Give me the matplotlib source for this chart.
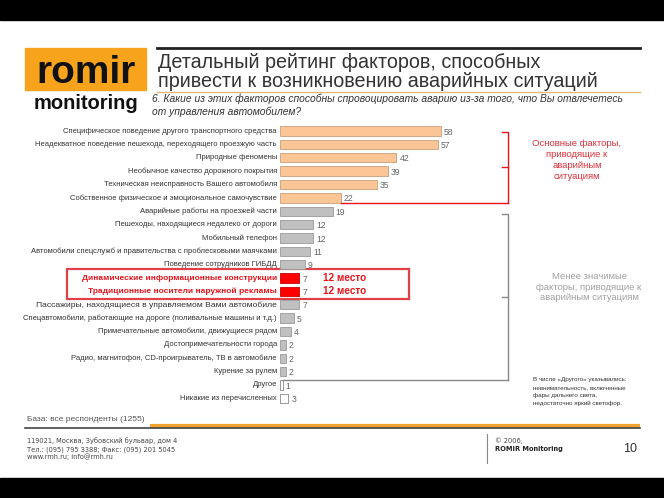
import matplotlib.pyplot as plt
import matplotlib.patches as patches

plt.rcParams['font.family'] = ['Liberation Sans', 'DejaVu Sans']

categories = [
    'Специфическое поведение другого транспортного средства',
    'Неадекватное поведение пешехода, переходящего проезжую часть',
    'Природные феномены',
    'Необычное качество дорожного покрытия',
    'Техническая неисправность Вашего автомобиля',
    'Собственное физическое и эмоциональное самочувствие',
    'Аварийные работы на проезжей части',
    'Пешеходы, находящиеся недалеко от дороги',
    'Мобильный телефон',
    'Автомобили спецслужб и правительства с проблесковыми маячками',
    'Поведение сотрудников ГИБДД',
    'Динамические информационные конструкции',
    'Традиционные носители наружной рекламы',
    'Пассажиры, находящиеся в управляемом Вами автомобиле',
    'Спецавтомобили, работающие на дороге (поливальные машины и т.д.)',
    'Примечательные автомобили, движущиеся рядом',
    'Достопримечательности города',
    'Радио, магнитофон, CD-проигрыватель, ТВ в автомобиле',
    'Курение за рулем',
    'Другое',
    'Никакие из перечисленных',
]
values = [58, 57, 42, 39, 35, 22, 19, 12, 12, 11, 9, 7, 7, 7, 5, 4, 2, 2, 2, 1, 3]
# group of each bar: main factors, less significant, highlighted, other
groups = ['main'] * 6 + ['minor'] * 5 + ['hl', 'hl'] + ['minor'] * 6 + ['other', 'other']
rank_labels = ['12 место', '12 место']

title_lines = ['Детальный рейтинг факторов, способных',
               'привести к возникновению аварийных ситуаций']
question_lines = ['6. Какие из этих факторов способны спровоцировать аварию из-за того, что Вы отвлечетесь',
                  'от управления автомобилем?']
base_text = 'База: все респонденты (1255)'
address = ['119021, Москва, Зубовский бульвар, дом 4',
           'Тел.: (095) 795 3388; Факс: (095) 201 5045',
           'www.rmh.ru; info@rmh.ru']
note = ['В числе «Другого» указывались:', 'невнимательность, включенные',
        'фары дальнего света,', 'недостаточно яркий светофор.']

RED = '#e8141c'
ORANGE_BAR = '#fbc596'
GRAY_BAR = '#c0c0c0'

fig = plt.figure(figsize=(6.64, 4.98), dpi=100)

# overlay in pixel coordinates for page decoration
ov = fig.add_axes([0, 0, 1, 1])
ov.set_xlim(0, 664)
ov.set_ylim(498, 0)
ov.axis('off')

ov.add_patch(patches.Rectangle((0, 0), 664, 20, color='black'))
ov.add_patch(patches.Rectangle((0, 478), 664, 20, color='black'))

# logo
ov.add_patch(patches.Rectangle((25, 48), 121, 42, color='#f7a41c'))
ov.text(86, 83, 'romir', fontsize=28, fontweight='bold', ha='center', va='baseline', color='#111')
ov.text(86, 109, 'monitoring', fontsize=14.5, fontweight='bold', ha='center', va='baseline', color='#111')

# title
ov.plot([157, 640], [47.5, 47.5], color='#222', lw=2)
ov.text(158, 68, title_lines[0], fontsize=14.2, color='#333', va='baseline')
ov.text(158, 87, title_lines[1], fontsize=14.2, color='#333', va='baseline')
ov.plot([157, 640], [91.5, 91.5], color='#e2b878', lw=1)
ov.text(152, 102, question_lines[0], fontsize=7.4, style='italic', color='#333', va='baseline')
ov.text(152, 115, question_lines[1], fontsize=7.4, style='italic', color='#333', va='baseline')

# footer
ov.text(27, 421, base_text, fontsize=6, color='#555', va='baseline')
ov.plot([150, 640], [425.5, 425.5], color='#f2a22e', lw=3, solid_capstyle='butt')
ov.plot([25, 640], [428, 428], color='#444', lw=1.2)
for k, line in enumerate(address):
    ov.text(27, 443 + k * 8, line, fontsize=4.8, color='#444', va='baseline', family='DejaVu Sans')
ov.plot([487, 487], [434, 463], color='#888', lw=0.8)
ov.text(495, 443, '© 2006,', fontsize=4.8, color='#444', va='baseline', family='DejaVu Sans')
ov.text(495, 451, 'ROMIR Monitoring', fontsize=4.8, color='#222', fontweight='bold',
        va='baseline', family='DejaVu Sans')
ov.text(630, 452, '10', fontsize=9, color='#333', ha='center', va='baseline')

# side notes
ov.text(577, 160, 'Основные факторы,\nприводящие к\nаварийным\nситуациям', fontsize=6.8,
        color='#e0303a', ha='center', va='center', linespacing=1.25)
ov.text(589, 287, 'Менее значимые\nфакторы, приводящие к\nаварийным ситуациям', fontsize=6.8,
        color='#a0a0a0', ha='center', va='center', linespacing=1.25)
for k, line in enumerate(note):
    ov.text(533, 381 + k * 8, line, fontsize=4.5, color='#333', va='baseline')

# highlight box
ov.add_patch(patches.Rectangle((67, 269), 342, 30, fill=False, edgecolor='#e04048', lw=1.6))

# bar chart
ax = fig.add_axes([280 / 664, 1 - 405 / 498, 228 / 664, 280.6 / 498])
ax.set_xlim(0, 82.3)
ax.set_ylim(len(values) - 0.5, -0.5)
ax.axis('off')

face = {'main': ORANGE_BAR, 'minor': GRAY_BAR, 'hl': '#ff0000', 'other': 'white'}
edge = {'main': '#c8a07c', 'minor': '#999999', 'hl': '#cc0000', 'other': '#888888'}
for i, (cat, v, g) in enumerate(zip(categories, values, groups)):
    ax.barh(i, v, height=0.7, color=face[g], edgecolor=edge[g], linewidth=0.6)
    ax.text(v + 1.1, i + 0.08, str(v), fontsize=6.2, color='#666', va='center')
    if g == 'hl':
        ax.text(-1.1, i, cat, fontsize=6, color=RED, fontweight='bold', ha='right', va='center')
    else:
        fs = 6.1 if cat.startswith('Пассажиры') else 5.5
        ax.text(-1.1, i, cat, fontsize=fs, color='#333', ha='right', va='center')

hl_rows = [i for i, g in enumerate(groups) if g == 'hl']
for i, lab in zip(hl_rows, rank_labels):
    ax.text(15.5, i, lab, fontsize=7.2, color=RED, fontweight='bold', va='center')

# brackets
xr = 82.3
tick = 2.2
last_main = max(i for i, g in enumerate(groups) if g == 'main')
ax.plot([values[last_main], xr], [last_main + 0.35, last_main + 0.35], color=RED, lw=1, clip_on=False)
ax.plot([xr - tick, xr, xr], [0.1, 0.1, last_main + 0.35], color=RED, lw=1, clip_on=False)
ax.plot([xr - tick, xr], [2.7, 2.7], color=RED, lw=1, clip_on=False)

other_row = groups.index('other')
ax.plot([values[other_row], xr], [other_row - 0.35, other_row - 0.35], color='#888', lw=1, clip_on=False)
ax.plot([xr - tick, xr, xr], [6.2, 6.2, other_row - 0.35], color='#888', lw=1, clip_on=False)
ax.plot([xr - tick, xr], [12.45, 12.45], color='#888', lw=1, clip_on=False)

fig.savefig('out.png', dpi=100)
